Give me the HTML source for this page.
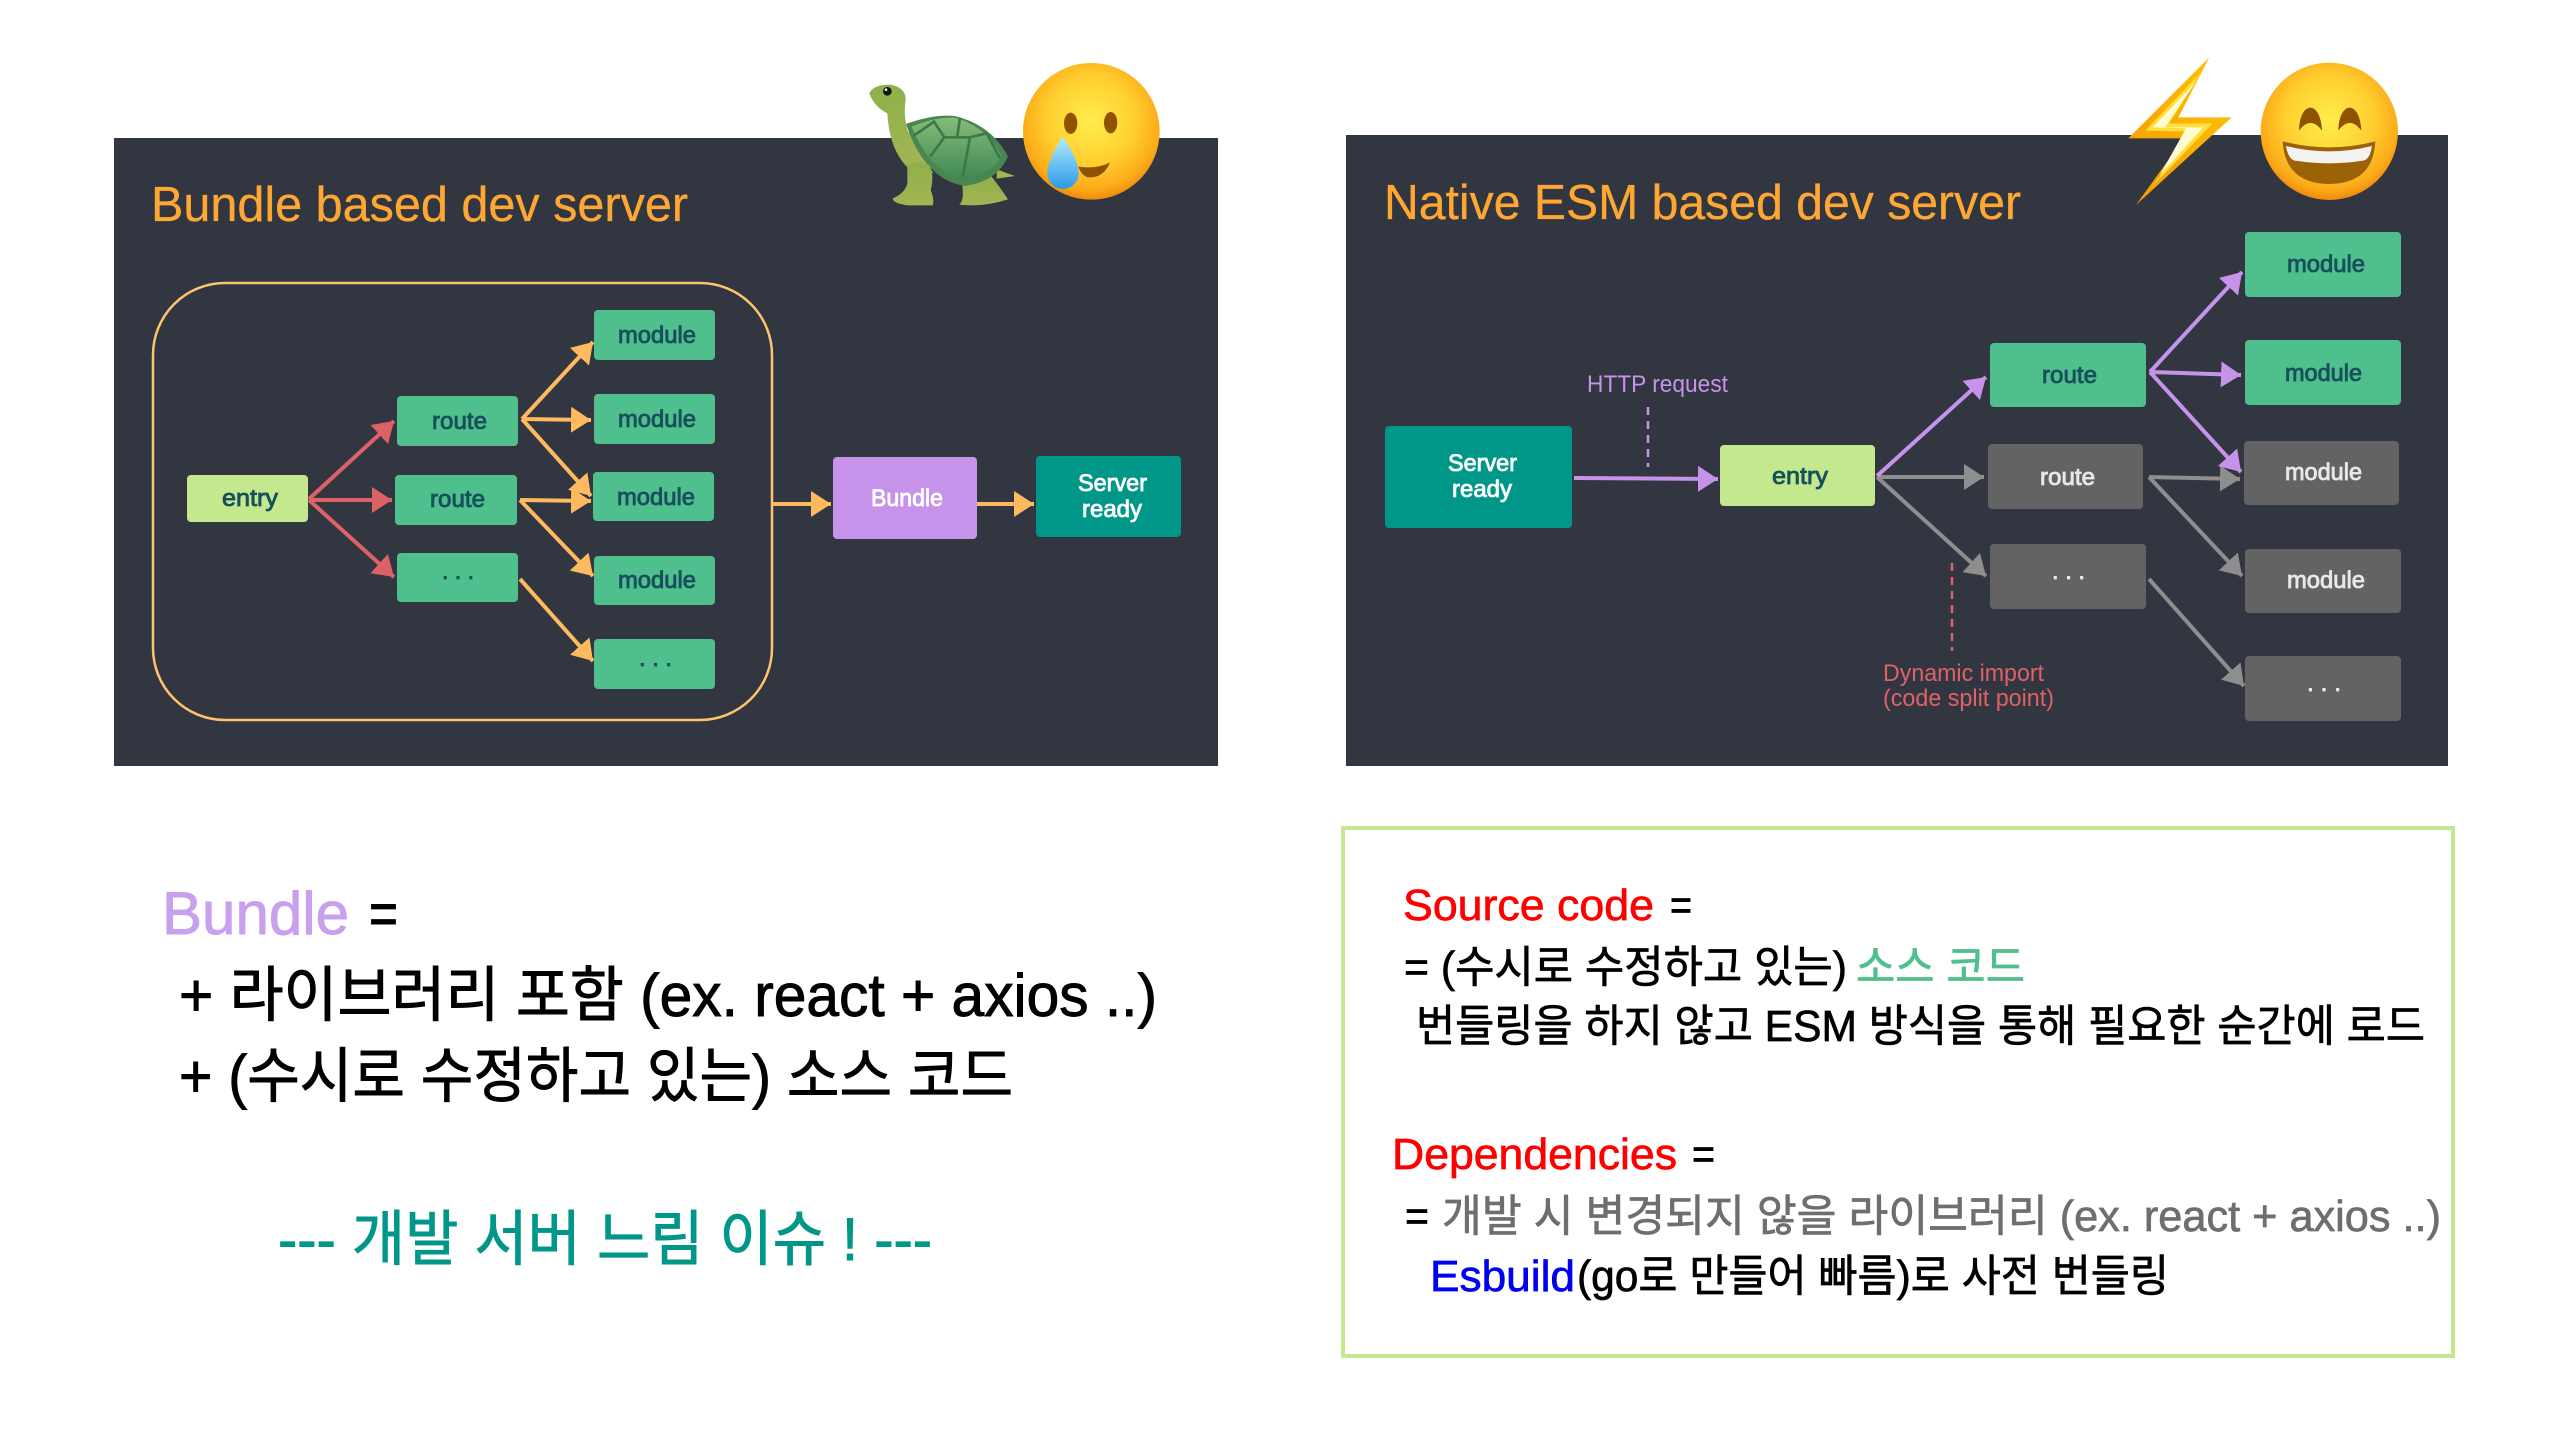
<!DOCTYPE html>
<html lang="ko"><head><meta charset="utf-8"><title>Bundle vs Native ESM dev server</title>
<style>
html,body{margin:0;padding:0;background:#fff}
svg{display:block}
text{font-family:"Liberation Sans","Noto Sans CJK KR",sans-serif}
.t{font-size:49px;fill:#ffa733;stroke:#ffa733;stroke-width:.3px}
.l{font-size:24px;stroke-width:.85px}
.d{fill:#17505a;stroke:#17505a}
.w{fill:#fff;stroke:#fff}
.g{fill:#e8e8e8;stroke:#e8e8e8}
.s{font-size:24px}
.b{font-size:60px;fill:currentColor;stroke:currentColor;stroke-width:.9px}
.r{font-size:44px;fill:currentColor;stroke:currentColor;stroke-width:.7px}
</style></head><body>
<svg width="2560" height="1440" viewBox="0 0 2560 1440" xmlns="http://www.w3.org/2000/svg">
<defs>
<marker id="mo" markerUnits="userSpaceOnUse" viewBox="0 0 20 26" markerWidth="20" markerHeight="26" refX="20" refY="13" orient="auto"><path d="M0 0L20 13L0 26z" fill="#ffb95f"/></marker>
<marker id="mr" markerUnits="userSpaceOnUse" viewBox="0 0 20 26" markerWidth="20" markerHeight="26" refX="20" refY="13" orient="auto"><path d="M0 0L20 13L0 26z" fill="#dd6268"/></marker>
<marker id="mp" markerUnits="userSpaceOnUse" viewBox="0 0 20 26" markerWidth="20" markerHeight="26" refX="20" refY="13" orient="auto"><path d="M0 0L20 13L0 26z" fill="#c792ea"/></marker>
<marker id="mg" markerUnits="userSpaceOnUse" viewBox="0 0 20 26" markerWidth="20" markerHeight="26" refX="20" refY="13" orient="auto"><path d="M0 0L20 13L0 26z" fill="#8e8e8e"/></marker>
<radialGradient id="face" cx=".5" cy=".42" r=".58"><stop offset="0" stop-color="#ffee4d"/><stop offset=".55" stop-color="#ffcf30"/><stop offset=".88" stop-color="#fba918"/><stop offset="1" stop-color="#ef8a0c"/></radialGradient>
<linearGradient id="tear" x1="0" y1="0" x2="0" y2="1"><stop offset="0" stop-color="#b5ecff"/><stop offset="1" stop-color="#2a9ae6"/></linearGradient>
<linearGradient id="shell" x1="0" y1="0" x2="0" y2="1"><stop offset="0" stop-color="#86bb78"/><stop offset="1" stop-color="#3f8a55"/></linearGradient>
<linearGradient id="skin" x1="0" y1="0" x2="0" y2="1"><stop offset="0" stop-color="#8fb04a"/><stop offset="1" stop-color="#a2b553"/></linearGradient>
<linearGradient id="bolt" x1="0" y1="1" x2="1" y2="0"><stop offset="0" stop-color="#f39a05"/><stop offset="1" stop-color="#ffc400"/></linearGradient>
</defs>

<!-- left panel -->
<rect x="114" y="138" width="1104" height="628" fill="#323641"/>
<text class="t" x="151" y="221" textLength="537" lengthAdjust="spacingAndGlyphs">Bundle based dev server</text>
<rect x="153" y="283" width="619" height="437" rx="72" fill="none" stroke="#ffc36e" stroke-width="2.5"/>

<g fill="#4fbf8d">
<rect x="397" y="396" width="121" height="50" rx="4"/>
<rect x="395" y="475" width="122" height="50" rx="4"/>
<rect x="397" y="553" width="121" height="49" rx="4"/>
<rect x="594" y="310" width="121" height="50" rx="4"/>
<rect x="594" y="394" width="121" height="50" rx="4"/>
<rect x="593" y="472" width="121" height="49" rx="4"/>
<rect x="594" y="556" width="121" height="49" rx="4"/>
<rect x="594" y="639" width="121" height="50" rx="4"/>
</g>
<rect x="187" y="475" width="121" height="47" rx="4" fill="#c3e88d"/>
<rect x="833" y="457" width="144" height="82" rx="4" fill="#c792ea"/>
<rect x="1036" y="456" width="145" height="81" rx="4" fill="#009688"/>

<g fill="none" stroke-width="4">
<g stroke="#dd6268">
<path d="M309 499L394 421" marker-end="url(#mr)"/>
<path d="M309 500L392 500" marker-end="url(#mr)"/>
<path d="M309 500L394 577" marker-end="url(#mr)"/>
</g>
<g stroke="#ffb95f">
<path d="M522 419L593 342" marker-end="url(#mo)"/>
<path d="M522 419L591 420" marker-end="url(#mo)"/>
<path d="M522 419L591 496" marker-end="url(#mo)"/>
<path d="M520 500L591 501" marker-end="url(#mo)"/>
<path d="M520 500L593 576" marker-end="url(#mo)"/>
<path d="M520 579L593 661" marker-end="url(#mo)"/>
<path d="M773 504L831 504" marker-end="url(#mo)"/>
<path d="M977 504L1034 504" marker-end="url(#mo)"/>
</g>
</g>

<text class="l d" x="222" y="506" textLength="56" lengthAdjust="spacingAndGlyphs">entry</text>
<text class="l d" x="432" y="429" textLength="55" lengthAdjust="spacingAndGlyphs">route</text>
<text class="l d" x="430" y="507" textLength="55" lengthAdjust="spacingAndGlyphs">route</text>
<text class="l d" x="442" y="579" textLength="32" lengthAdjust="spacingAndGlyphs">. . .</text>
<text class="l d" x="618" y="343" textLength="78" lengthAdjust="spacingAndGlyphs">module</text>
<text class="l d" x="618" y="427" textLength="78" lengthAdjust="spacingAndGlyphs">module</text>
<text class="l d" x="617" y="505" textLength="78" lengthAdjust="spacingAndGlyphs">module</text>
<text class="l d" x="618" y="588" textLength="78" lengthAdjust="spacingAndGlyphs">module</text>
<text class="l d" x="639" y="666" textLength="33" lengthAdjust="spacingAndGlyphs">. . .</text>
<text class="l w" x="871" y="506" textLength="72" lengthAdjust="spacingAndGlyphs">Bundle</text>
<text class="l w" x="1078" y="491" textLength="69" lengthAdjust="spacingAndGlyphs">Server</text>
<text class="l w" x="1082" y="517" textLength="60" lengthAdjust="spacingAndGlyphs">ready</text>

<!-- turtle -->
<g transform="translate(850,50) scale(.3333)">
<path d="M440 358L495 378L440 386z" fill="#a2b553"/>
<path d="M335 395Q345 450 328 464Q400 472 474 448Q445 405 425 380z" fill="url(#skin)"/>
<path d="M58 130Q70 104 120 104Q168 112 167 150Q160 190 172 240L250 370L175 355Q118 300 112 190Q72 170 58 130Z" fill="url(#skin)"/>
<path d="M168 222Q250 192 315 198Q425 225 474 320Q440 395 345 408Q225 390 168 222Z" fill="#4b8650"/>
<path d="M185 230Q255 200 315 203Q410 230 455 320Q425 372 340 386Q240 368 185 230Z" fill="url(#shell)"/>
<path d="M190 258L252 215L283 262L240 320M283 262L360 262L410 250M330 205L322 258M360 262L338 382M410 250L450 325" fill="none" stroke="#3b7a48" stroke-width="8"/>
<path d="M172 346Q205 330 238 346Q254 375 242 420Q254 450 248 466L175 466Q128 460 128 445Q165 430 172 400Z" fill="url(#skin)"/>
<circle cx="112" cy="124" r="13" fill="#111"/><circle cx="108" cy="119" r="4" fill="#fff"/>
</g>

<!-- crying face -->
<g transform="translate(850,50) scale(.3333)">
<circle cx="724" cy="244" r="205" fill="url(#face)"/>
<ellipse cx="662" cy="220" rx="20" ry="32" fill="#8f5200"/>
<ellipse cx="782" cy="218" rx="20" ry="32" fill="#8f5200"/>
<path d="M685 350Q740 358 780 338Q760 385 715 382Q695 378 685 350Z" fill="#8f5200"/>
<path d="M638 260Q592 330 592 370A47 47 0 0 0 686 370Q686 330 638 260Z" fill="url(#tear)"/>
</g>

<!-- right panel -->
<rect x="1346" y="135" width="1102" height="631" fill="#323641"/>
<text class="t" x="1384" y="219" textLength="637" lengthAdjust="spacingAndGlyphs">Native ESM based dev server</text>

<rect x="1385" y="426" width="187" height="102" rx="4" fill="#009688"/>
<rect x="1720" y="445" width="155" height="61" rx="4" fill="#c3e88d"/>
<g fill="#4fbf8d">
<rect x="1990" y="343" width="156" height="64" rx="4"/>
<rect x="2245" y="232" width="156" height="65" rx="4"/>
<rect x="2245" y="340" width="156" height="65" rx="4"/>
</g>
<g fill="#636363">
<rect x="1988" y="444" width="155" height="65" rx="4"/>
<rect x="1990" y="544" width="156" height="65" rx="4"/>
<rect x="2244" y="441" width="155" height="64" rx="4"/>
<rect x="2245" y="549" width="156" height="64" rx="4"/>
<rect x="2245" y="656" width="156" height="65" rx="4"/>
</g>

<g fill="none" stroke-width="4">
<g stroke="#8e8e8e">
<path d="M1877 477L1984 477" marker-end="url(#mg)"/>
<path d="M1877 477L1986 576" marker-end="url(#mg)"/>
<path d="M2149 477L2240 479" marker-end="url(#mg)"/>
<path d="M2149 477L2242 576" marker-end="url(#mg)"/>
<path d="M2149 579L2244 686" marker-end="url(#mg)"/>
</g>
<g stroke="#c792ea">
<path d="M1574 478L1718 479" marker-end="url(#mp)"/>
<path d="M1877 476L1986 377" marker-end="url(#mp)"/>
<path d="M2150 372L2242 272" marker-end="url(#mp)"/>
<path d="M2150 372L2241 375" marker-end="url(#mp)"/>
<path d="M2150 372L2241 472" marker-end="url(#mp)"/>
</g>
<path d="M1648 407V467" stroke="#c792ea" stroke-width="2.5" stroke-dasharray="8 6"/>
<path d="M1952 563V651" stroke="#dd6268" stroke-width="2.5" stroke-dasharray="8 6"/>
</g>

<text class="s" x="1587" y="392" fill="#c792ea" textLength="141" lengthAdjust="spacingAndGlyphs">HTTP request</text>
<text class="s" x="1883" y="681" fill="#dd6268" textLength="161" lengthAdjust="spacingAndGlyphs">Dynamic import</text>
<text class="s" x="1883" y="706" fill="#dd6268" textLength="171" lengthAdjust="spacingAndGlyphs">(code split point)</text>

<text class="l w" x="1448" y="471" textLength="69" lengthAdjust="spacingAndGlyphs">Server</text>
<text class="l w" x="1452" y="497" textLength="60" lengthAdjust="spacingAndGlyphs">ready</text>
<text class="l d" x="1772" y="484" textLength="56" lengthAdjust="spacingAndGlyphs">entry</text>
<text class="l d" x="2042" y="383" textLength="55" lengthAdjust="spacingAndGlyphs">route</text>
<text class="l g" x="2040" y="485" textLength="55" lengthAdjust="spacingAndGlyphs">route</text>
<text class="l g" x="2052" y="579" textLength="33" lengthAdjust="spacingAndGlyphs">. . .</text>
<text class="l d" x="2287" y="272" textLength="78" lengthAdjust="spacingAndGlyphs">module</text>
<text class="l d" x="2285" y="381" textLength="77" lengthAdjust="spacingAndGlyphs">module</text>
<text class="l g" x="2285" y="480" textLength="77" lengthAdjust="spacingAndGlyphs">module</text>
<text class="l g" x="2287" y="588" textLength="78" lengthAdjust="spacingAndGlyphs">module</text>
<text class="l g" x="2307" y="691" textLength="34" lengthAdjust="spacingAndGlyphs">. . .</text>

<!-- lightning -->
<g transform="translate(2110,40) scale(.3333)">
<path d="M298 52L205 232L365 232L78 495L222 295L55 295Z" fill="url(#bolt)"/>
<path d="M272 98L178 250L308 250L128 438L246 275L106 272Z" fill="#ffdf3a"/>
<path d="M258 125L165 262L280 262L150 405L228 265L128 262Z" fill="#fffbd2"/>
</g>

<!-- smiling face -->
<g transform="translate(2110,40) scale(.3333)">
<circle cx="658" cy="274" r="206" fill="url(#face)"/>
<path d="M567 272C570 180 632 180 636 272Q602 225 567 272Z" fill="#8f5200"/>
<path d="M685 272C688 180 750 180 754 272Q720 225 685 272Z" fill="#8f5200"/>
<path d="M518 304Q658 340 796 304Q790 430 658 432Q525 430 518 304Z" fill="#9b6208"/>
<path d="M528 318Q658 350 786 318Q780 358 760 362Q658 378 555 362Q535 358 528 318Z" fill="#f3f3f3"/>
</g>

<!-- bottom left text -->
<text class="b" x="162" y="934" color="#c9a0ee" textLength="187" lengthAdjust="spacingAndGlyphs">Bundle</text>
<text class="b" x="369" y="934" color="#000" textLength="29" lengthAdjust="spacingAndGlyphs">=</text>
<text class="b" x="179" y="1016" color="#000" textLength="978" lengthAdjust="spacingAndGlyphs">+ 라이브러리 포함 (ex. react + axios ..)</text>
<text class="b" x="179" y="1097" color="#000" textLength="834" lengthAdjust="spacingAndGlyphs">+ (수시로 수정하고 있는) 소스 코드</text>
<text class="b" x="278" y="1260" color="#009688" textLength="654" lengthAdjust="spacingAndGlyphs">--- 개발 서버 느림 이슈 ! ---</text>

<!-- bottom right box -->
<rect x="1343" y="828" width="1110" height="528" fill="none" stroke="#c5e88f" stroke-width="4"/>
<text class="r" x="1403" y="920" color="#f00" textLength="251" lengthAdjust="spacingAndGlyphs">Source code</text>
<text class="r" x="1670" y="920" color="#000" textLength="22" lengthAdjust="spacingAndGlyphs">=</text>
<text class="r" x="1404" y="982" color="#000" textLength="443" lengthAdjust="spacingAndGlyphs">= (수시로 수정하고 있는)</text>
<text class="r" x="1856" y="982" color="#4fbf8d" textLength="169" lengthAdjust="spacingAndGlyphs">소스 코드</text>
<text class="r" x="1416" y="1041" color="#000" textLength="1009" lengthAdjust="spacingAndGlyphs">번들링을 하지 않고 ESM 방식을 통해 필요한 순간에 로드</text>
<text class="r" x="1392" y="1169" color="#f00" textLength="285" lengthAdjust="spacingAndGlyphs">Dependencies</text>
<text class="r" x="1692" y="1169" color="#000" textLength="23" lengthAdjust="spacingAndGlyphs">=</text>
<text class="r" x="1405" y="1231" color="#000" textLength="24" lengthAdjust="spacingAndGlyphs">=</text>
<text class="r" x="1442" y="1231" color="#6e6e6e" textLength="999" lengthAdjust="spacingAndGlyphs">개발 시 변경되지 않을 라이브러리 (ex. react + axios ..)</text>
<text class="r" x="1430" y="1291" color="#0000f0" textLength="145" lengthAdjust="spacingAndGlyphs">Esbuild</text>
<text class="r" x="1577" y="1291" color="#000" textLength="592" lengthAdjust="spacingAndGlyphs">(go로 만들어 빠름)로 사전 번들링</text>
</svg>
</body></html>
